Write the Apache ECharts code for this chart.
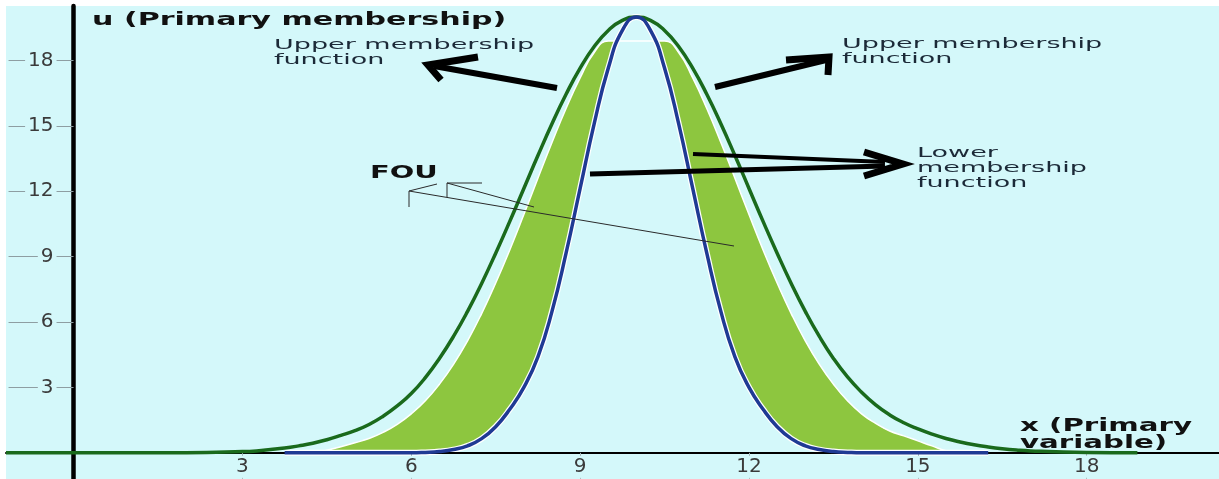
<!DOCTYPE html>
<html>
<head>
<meta charset="utf-8">
<script src="https://cdn.jsdelivr.net/npm/echarts@6/dist/echarts.min.js"></script>
<style>
  html, body { margin: 0; padding: 0; background: #ffffff; }
  #chart { width: 1219px; height: 479px; }
</style>
</head>
<body>
<div id="chart"></div>
<script>
// Primary variable sample points
const xValues = [-1.2, 1, 2,
  3, 3.25, 3.5, 3.75, 4, 4.25, 4.5, 4.75, 5, 5.25, 5.5, 5.75, 6, 6.25, 6.5, 6.75,
  7, 7.25, 7.5, 7.75, 8, 8.25, 8.5, 8.75, 9, 9.25, 9.5, 9.75, 10, 10.25, 10.5, 10.75,
  11, 11.25, 11.5, 11.75, 12, 12.25, 12.5, 12.75, 13, 13.25, 13.5, 13.75, 14, 14.25,
  14.5, 14.75, 15, 15.25, 15.5, 15.75, 16, 16.25, 16.5, 16.75, 17, 18, 18.9];

// Upper membership function (outer curve)
const upperMF = [0, 0, 0.01,
  0.06, 0.09, 0.15, 0.22, 0.32, 0.44, 0.6, 0.8, 1.02, 1.3, 1.68, 2.15, 2.72, 3.45, 4.33, 5.34,
  6.49, 7.77, 9.16, 10.62, 12.13, 13.64, 15.10, 16.45, 17.65, 18.64, 19.38, 19.84, 20, 19.84, 19.38, 18.64,
  17.65, 16.45, 15.10, 13.64, 12.13, 10.62, 9.16, 7.77, 6.49, 5.34, 4.33, 3.48, 2.78, 2.2,
  1.74, 1.38, 1.1, 0.86, 0.66, 0.5, 0.37, 0.27, 0.19, 0.13, 0.09, 0.02, 0];

// Lower membership function (inner curve)
const lowerMF = [null, null, null,
  null, null, null, 0, 0, 0, 0, 0, 0, 0, 0, 0, 0, 0.02, 0.06, 0.15,
  0.32, 0.65, 1.2, 2.0, 3.0, 4.4, 6.49, 9.16, 12.13, 15.10, 17.65, 19.38, 20, 19.38, 17.65, 15.10,
  12.13, 9.16, 6.49, 4.4, 3.0, 2.0, 1.2, 0.65, 0.32, 0.15, 0.06, 0.02, 0, 0,
  0, 0, 0, 0, 0, 0, 0, 0, null, null, null, null, null];

// Outer edge of the shaded footprint of uncertainty
const fouEdge = [null, null, null,
  null, null, null, null, null, 0, 0.12, 0.28, 0.46, 0.66, 0.94, 1.31, 1.79, 2.39, 3.15, 4.06,
  5.14, 6.39, 7.79, 9.31, 10.93, 12.60, 14.24, 15.80, 17.20, 18.37, 18.9, 18.9, 18.9, 18.9, 18.9, 18.37,
  17.20, 15.80, 14.24, 12.60, 10.93, 9.31, 7.79, 6.39, 5.14, 4.06, 3.15, 2.39, 1.79, 1.35,
  1.0, 0.78, 0.55, 0.32, 0.1, 0, null, null, null, null, null, null, null];

const yTicks = [3, 6, 9, 12, 15, 18];
const xTicks = [3, 6, 9, 12, 15, 18];

const BG = '#d4f8fa';
const FONT = 'DejaVu Sans';

const toPairs = ys => xValues.map((x, i) => [x, ys[i]]).filter(p => p[1] !== null);

const chart = echarts.init(document.getElementById('chart'), null, { renderer: 'canvas' });

function text(str, x, y, size, weight, scaleX, color, lineHeight) {
  return {
    type: 'text', x: x, y: y, scaleX: scaleX, z: 100,
    style: {
      text: str, fontFamily: FONT, fontSize: size, fontWeight: weight,
      fill: color, align: 'left', verticalAlign: 'top', lineHeight: lineHeight
    }
  };
}
function stroke(points, width, color) {
  return {
    type: 'polyline', z: 100,
    shape: { points: points },
    style: { stroke: color, lineWidth: width, fill: 'none', lineJoin: 'miter', lineCap: 'butt' }
  };
}
// tick label placed on an axis value, with a background that breaks the tick line
function tickLabel(value, x, y, align) {
  return {
    type: 'text', x: x, y: y, z: 50,
    style: {
      text: String(value), fontFamily: FONT, fontSize: 20, fill: '#3a3a3a',
      align: align, verticalAlign: 'middle', backgroundColor: BG, padding: [1, 3]
    }
  };
}

const option = {
  animation: false,
  backgroundColor: '#ffffff',
  grid: {
    left: 6, top: 6, right: 0, bottom: 0,
    containLabel: false,
    outerBounds: { left: -400, top: -400, right: -400, bottom: -400 },
    show: true, backgroundColor: BG, borderWidth: 0
  },
  xAxis: {
    type: 'value', min: -1.2, max: 20.35, z: 2,
    axisLine: { onZero: true, lineStyle: { color: '#000000', width: 2 } },
    axisTick: { show: true, customValues: xTicks, length: 26, lineStyle: { color: '#a4b4b8', width: 1 } },
    axisLabel: { show: false },
    splitLine: { show: false }
  },
  yAxis: {
    type: 'value', min: -1.2, max: 20.5, z: 2,
    axisLine: { onZero: true, lineStyle: { color: '#000000', width: 4.5 } },
    axisTick: { show: true, customValues: yTicks, length: 65, lineStyle: { color: '#8e9ea2', width: 1 } },
    axisLabel: { show: false },
    splitLine: { show: false }
  },
  series: [
    {
      name: 'FOU', type: 'line', z: 1, data: toPairs(fouEdge),
      smooth: 0.5, symbol: 'none',
      lineStyle: { color: '#ffffff', width: 1.5 },
      areaStyle: { color: '#8dc63f', opacity: 1 }
    },
    {
      name: 'LMF area', type: 'line', z: 1, data: toPairs(lowerMF),
      smooth: 0.5, symbol: 'none',
      lineStyle: { color: '#ffffff', width: 6 },
      areaStyle: { color: BG, opacity: 1 }
    },
    {
      name: 'Upper membership function', type: 'line', z: 3, data: toPairs(upperMF),
      smooth: 0.5, symbol: 'none',
      lineStyle: { color: '#1a6a1c', width: 3.5 }
    },
    {
      name: 'Lower membership function', type: 'line', z: 3, data: toPairs(lowerMF),
      smooth: 0.5, symbol: 'none',
      lineStyle: { color: '#1f3a94', width: 3.5 }
    }
  ]
};

chart.setOption(option);

// Tick labels positioned through the axes' own scales
const yLabelEls = yTicks.map(v => {
  const p = chart.convertToPixel({ gridIndex: 0 }, [0, v]);
  return tickLabel(v, p[0] - 17, p[1], 'right');
});
const xLabelEls = xTicks.map(v => {
  const p = chart.convertToPixel({ gridIndex: 0 }, [v, 0]);
  return tickLabel(v, p[0], p[1] + 14, 'center');
});

chart.setOption({
  graphic: [
    text('u (Primary membership)', 92, 12, 17, 'bold', 1.77, '#111111', 18),
    text('Upper membership\nfunction', 274, 38, 13.5, 'normal', 2.0, '#1c2a38', 15),
    text('Upper membership\nfunction', 842, 37, 13.5, 'normal', 2.0, '#1c2a38', 15),
    text('Lower\nmembership\nfunction', 917, 146, 13.5, 'normal', 2.0, '#1c2a38', 15),
    text('FOU', 370, 165, 17, 'bold', 1.7, '#111111', 18),
    text('x (Primary\nvariable)', 1020, 418, 17, 'bold', 1.72, '#111111', 17),

    // arrow towards the left upper label
    stroke([[557, 88], [434, 66]], 6, '#000000'),
    stroke([[478, 57], [428, 65], [441, 80]], 7, '#000000'),
    // arrow towards the right upper label
    stroke([[715, 87], [826, 60]], 6, '#000000'),
    stroke([[786, 60], [829, 57], [828, 75]], 7, '#000000'),
    // arrows towards the lower label
    stroke([[693, 154], [885, 162]], 4, '#000000'),
    stroke([[590, 174], [885, 166]], 5, '#000000'),
    stroke([[864, 152], [903, 164], [864, 176]], 7, '#000000'),

    // callout lines from FOU
    stroke([[409, 207], [409, 191], [437, 184]], 1, '#2a2a2a'),
    stroke([[409, 191], [734, 246]], 1, '#2a2a2a'),
    stroke([[447, 197], [447, 183], [482, 183]], 1, '#2a2a2a'),
    stroke([[447, 183], [534, 207]], 1, '#2a2a2a')
  ].concat(yLabelEls, xLabelEls)
});
</script>
</body>
</html>
